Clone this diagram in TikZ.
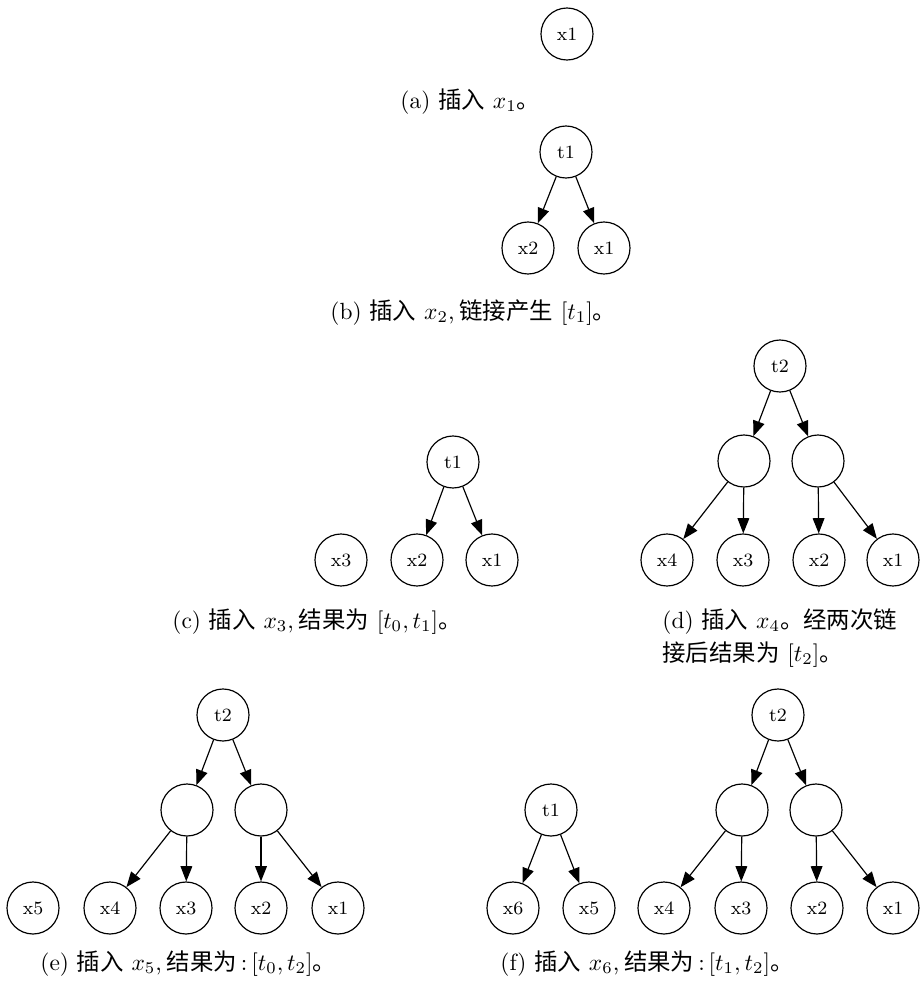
\documentclass[tikz,border=0pt]{standalone}
\usepackage{amsmath}
\usepackage{fontspec}
\newfontfamily\cjk{Noto Sans CJK SC}
\newcommand{\zh}[1]{{\cjk #1}}
\usetikzlibrary{arrows.meta}

\begin{document}
\begin{tikzpicture}[
    x=0.015cm, y=-0.015cm,
    vtx/.style={draw, circle, line width=0.5pt, minimum size=0.78cm, inner sep=0pt, font=\footnotesize},
    arr/.style={-{Triangle[length=6.5pt, width=5pt]}, line width=0.5pt},
    captxt/.style={anchor=base west, inner sep=0pt, font=\normalsize},
]
\useasboundingbox (0,0) rectangle (920,990);

% --- (a) ---
\node[vtx] (a1) at (567,34) {x1};
\node[captxt] (capa) at (400,108) {(a) \zh{插入} $x_1$\zh{。}};

% --- (b) ---
\node[vtx] (bt1) at (566,152) {t1};
\node[vtx] (bx2) at (528,248) {x2};
\node[vtx] (bx1) at (604,248) {x1};
\draw[arr] (bt1) -- (bx2);
\draw[arr] (bt1) -- (bx1);
\node[captxt] (capb) at (330,319) {(b) \zh{插入} $x_2$,\hspace{0.2em}\zh{链接产生} $[t_1]$\zh{。}};

% --- (c) ---
\node[vtx] (ct1) at (453,462) {t1};
\node[vtx] (cx3) at (341,560) {x3};
\node[vtx] (cx2) at (417,560) {x2};
\node[vtx] (cx1) at (492,560) {x1};
\draw[arr] (ct1) -- (cx2);
\draw[arr] (ct1) -- (cx1);
\node[captxt] (capc) at (172,628) {(c) \zh{插入} $x_3$,\hspace{0.2em}\zh{结果为} $[t_0,t_1]$\zh{。}};

% --- (d) ---
\node[vtx] (dt2) at (780,366) {t2};
\node[vtx] (dl) at (744,461) {};
\node[vtx] (dr) at (818,461) {};
\node[vtx] (dx4) at (667,560) {x4};
\node[vtx] (dx3) at (743,560) {x3};
\node[vtx] (dx2) at (819,560) {x2};
\node[vtx] (dx1) at (893,560) {x1};
\draw[arr] (dt2) -- (dl);
\draw[arr] (dt2) -- (dr);
\draw[arr] (dl) -- (dx4);
\draw[arr] (dl) -- (dx3);
\draw[arr] (dr) -- (dx2);
\draw[arr] (dr) -- (dx1);
\node[captxt] (capd) at (662,628) {(d) \zh{插入} $x_4$\zh{。经两次链}};
\node[captxt] (capdd) at (662,661) {\zh{接后结果为} $[t_2]$\zh{。}};

% --- (e) ---
\node[vtx] (et2) at (223,715) {t2};
\node[vtx] (el) at (187,810) {};
\node[vtx] (er) at (261,810) {};
\node[vtx] (ex5) at (33,908) {x5};
\node[vtx] (ex4) at (110,908) {x4};
\node[vtx] (ex3) at (186,908) {x3};
\node[vtx] (ex2) at (261,908) {x2};
\node[vtx] (ex1) at (338,908) {x1};
\draw[arr] (et2) -- (el);
\draw[arr] (et2) -- (er);
\draw[arr] (el) -- (ex4);
\draw[arr] (el) -- (ex3);
\draw[arr] (er) -- (ex2);
\draw[arr] (er) -- (ex1);
\node[captxt] (cape) at (40,970) {(e) \zh{插入} $x_5$,\hspace{0.2em}\zh{结果为}\,:\,$[t_0,t_2]$\zh{。}};

% --- (f) ---
\node[vtx] (ft1) at (551,810) {t1};
\node[vtx] (fx6) at (513,908) {x6};
\node[vtx] (fx5) at (589,908) {x5};
\draw[arr] (ft1) -- (fx6);
\draw[arr] (ft1) -- (fx5);
\node[vtx] (ft2) at (778,715) {t2};
\node[vtx] (fl) at (742,810) {};
\node[vtx] (fr) at (816,810) {};
\node[vtx] (fx4) at (664,908) {x4};
\node[vtx] (fx3) at (741,908) {x3};
\node[vtx] (fx2) at (817,908) {x2};
\node[vtx] (fx1) at (893,908) {x1};
\draw[arr] (ft2) -- (fl);
\draw[arr] (ft2) -- (fr);
\draw[arr] (fl) -- (fx4);
\draw[arr] (fl) -- (fx3);
\draw[arr] (fr) -- (fx2);
\draw[arr] (fr) -- (fx1);
\node[captxt] (capf) at (500,970) {(f) \zh{插入} $x_6$,\hspace{0.2em}\zh{结果为}\,:\,$[t_1,t_2]$\zh{。}};
\end{tikzpicture}
\end{document}
